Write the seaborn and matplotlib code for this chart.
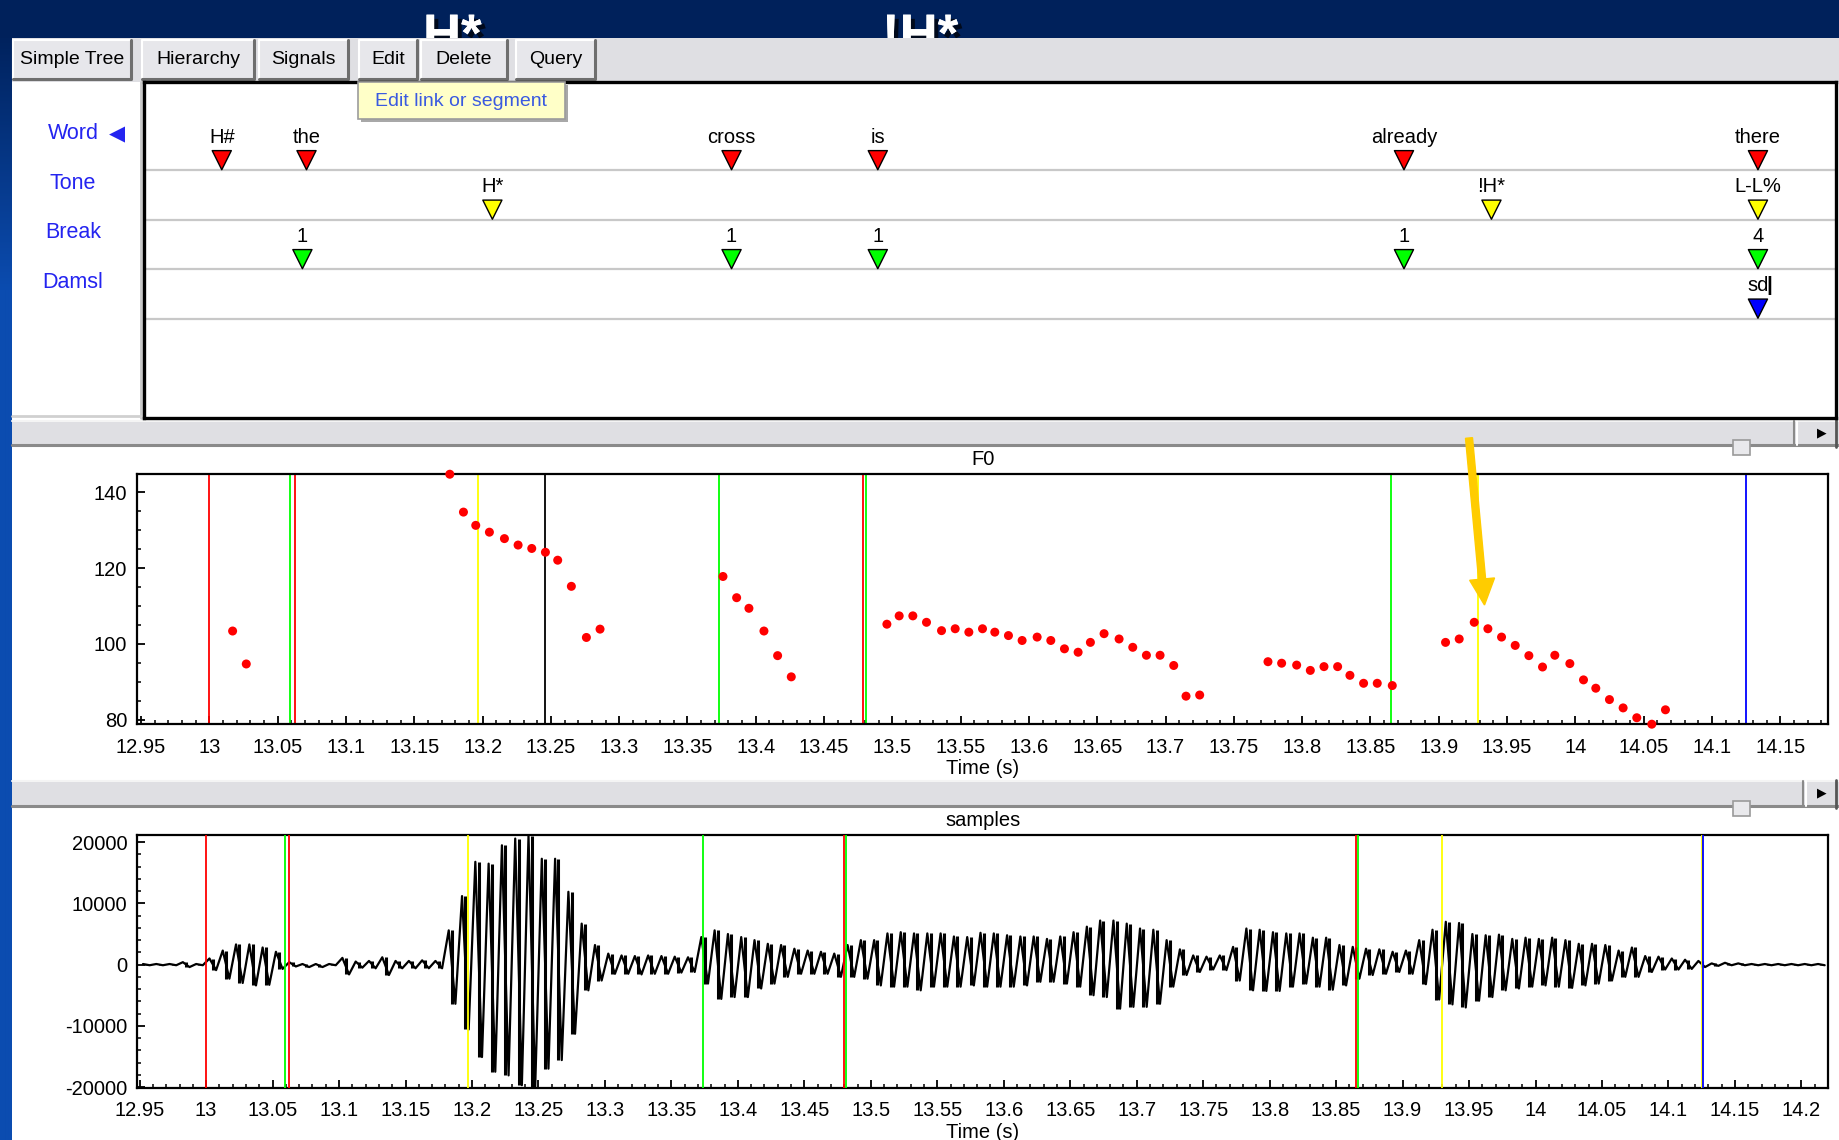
import numpy as np
import pandas as pd
import matplotlib
matplotlib.use("Agg")
import matplotlib.pyplot as plt
import matplotlib.patches as mpatches
import matplotlib.patheffects as pe
import matplotlib.transforms as mtransforms
from matplotlib.ticker import MultipleLocator, FuncFormatter
import seaborn as sns

# ---------------- data ----------------
tiers = ["Word", "Tone", "Break", "Damsl"]
word_labels = ["H#", "the", "cross", "is", "already", "there"]
word_times = [13.000, 13.062, 13.373, 13.480, 13.865, 14.124]
tone_labels = ["H*", "!H*", "L-L%"]
tone_times = [13.198, 13.929, 14.124]
break_labels = ["1", "1", "1", "1", "4"]
break_times = [13.059, 13.373, 13.480, 13.865, 14.124]
damsl_labels = ["sd"]
damsl_times = [14.124]

f0_time = [13.017, 13.027,
           13.176, 13.186, 13.195, 13.205, 13.216, 13.226, 13.236, 13.246, 13.255, 13.265, 13.276, 13.286,
           13.376, 13.386, 13.395, 13.406, 13.416, 13.426,
           13.496, 13.505, 13.515, 13.525, 13.536, 13.546, 13.556, 13.566, 13.575, 13.585, 13.595, 13.606,
           13.616, 13.626, 13.636, 13.645, 13.655, 13.666, 13.676, 13.686, 13.696, 13.706, 13.715, 13.725,
           13.775, 13.785, 13.796, 13.806, 13.816, 13.826, 13.835, 13.845, 13.855, 13.866,
           13.905, 13.915, 13.926, 13.936, 13.946, 13.956, 13.966, 13.976, 13.985, 13.996, 14.006, 14.015,
           14.025, 14.035, 14.045, 14.056, 14.066]
f0_hz = [103.4, 94.7,
         144.8, 134.8, 131.3, 129.5, 127.8, 126.1, 125.2, 124.2, 122.1, 115.2, 101.7, 103.9,
         117.8, 112.2, 109.4, 103.4, 96.9, 91.3,
         105.2, 107.4, 107.4, 105.7, 103.5, 104.0, 103.1, 104.0, 103.1, 102.2, 100.9, 101.8,
         100.9, 98.7, 97.8, 100.4, 102.7, 101.3, 99.1, 97.0, 97.0, 94.3, 86.2, 86.5,
         95.3, 94.9, 94.4, 93.0, 94.0, 94.0, 91.7, 89.6, 89.6, 89.0,
         100.4, 101.3, 105.7, 104.0, 101.8, 99.6, 96.9, 93.9, 97.0, 94.8, 90.5, 88.3,
         85.3, 83.1, 80.5, 78.8, 82.6]

f0_mark_time = [13.000, 13.0587, 13.063, 13.197, 13.246, 13.373, 13.4788, 13.4805, 13.865, 13.929, 14.1248]
f0_mark_kind = ["Word", "Break", "Word", "Tone", "Cursor", "Break", "Word", "Break", "Break", "Tone", "Damsl"]
wave_mark_time = [13.000, 13.0596, 13.0626, 13.197, 13.374, 13.480, 13.4815, 13.8649, 13.8667,
                  13.9294, 14.1249, 14.1262]
wave_mark_kind = ["Word", "Break", "Word", "Tone", "Break", "Word", "Break", "Word", "Break",
                  "Tone", "Tone", "Damsl"]

# waveform envelope, 10 ms bins starting at 12.95 s (thousands)
wave_bin_start = 12.95
wave_bin_width = 0.01
wave_max_k = [0.1, 0.1, 0.1, 0.4, 0.1, 1.0, 2.3, 3.3, 3.3, 2.8,
              2.1, 0.4, 0.1, 0.1, 0.1, 1.1, 0.5, 0.6, 1.2, 0.6,
              0.6, 0.7, 0.6, 5.6, 11.2, 16.8, 16.5, 19.5, 20.6, 21.0,
              17.3, 17.3, 11.9, 6.7, 3.2, 1.8, 1.5, 1.4, 1.5, 1.4,
              1.3, 1.2, 4.5, 5.6, 5.0, 4.5, 4.0, 3.4, 3.2, 2.6,
              2.3, 2.1, 1.8, 3.2, 4.0, 4.0, 5.1, 5.3, 5.1, 5.1,
              5.1, 4.6, 4.5, 5.2, 5.1, 4.8, 4.6, 4.6, 4.2, 4.6,
              5.3, 6.2, 7.2, 7.2, 6.7, 5.9, 5.7, 4.0, 2.5, 1.5,
              1.3, 1.5, 2.9, 5.9, 5.7, 5.3, 5.1, 5.1, 4.4, 4.4,
              3.2, 2.9, 2.6, 2.5, 2.1, 2.3, 4.0, 5.7, 7.0, 6.8,
              5.0, 4.8, 4.9, 4.2, 4.4, 4.2, 4.4, 4.0, 3.4, 3.4,
              3.2, 2.3, 2.8, 1.4, 1.3, 1.0, 0.8, 0.6, 0.2, 0.3,
              0.2, 0.1, 0.1, 0.1, 0.1, 0.1, 0.1]
wave_min_k = [-0.1, -0.1, -0.1, -0.4, -0.1, -0.9, -2.3, -3.0, -3.4, -3.3,
              -0.7, -0.3, -0.4, -0.4, -0.1, -1.6, -0.5, -0.6, -1.7, -0.6,
              -0.6, -0.6, -0.6, -6.4, -10.6, -15.1, -17.5, -18.1, -19.7, -20.2,
              -17.0, -15.6, -11.3, -4.2, -2.6, -1.5, -1.5, -1.6, -1.5, -1.5,
              -1.3, -1.2, -3.1, -5.6, -5.3, -5.3, -3.9, -3.1, -2.0, -1.5,
              -1.5, -1.5, -2.0, -2.0, -2.3, -3.4, -3.6, -3.6, -4.2, -3.6,
              -3.6, -3.6, -3.4, -3.6, -3.6, -3.6, -3.4, -2.8, -2.8, -3.1,
              -3.6, -5.0, -5.3, -7.2, -6.9, -6.9, -6.4, -3.6, -1.7, -1.2,
              -0.8, -0.9, -2.6, -4.2, -4.3, -4.3, -3.6, -3.1, -3.6, -4.1,
              -3.4, -2.3, -1.7, -1.5, -1.2, -1.5, -3.2, -5.7, -6.5, -7.0,
              -5.9, -5.3, -4.2, -3.9, -3.6, -3.4, -3.6, -3.8, -3.4, -3.1,
              -2.6, -2.0, -2.0, -1.2, -0.8, -0.8, -0.7, -0.4, -0.2, -0.1,
              -0.1, -0.1, -0.1, -0.1, -0.1, -0.1, -0.1]

button_labels = ["Simple Tree", "Hierarchy", "Signals", "Edit", "Delete", "Query"]
tooltip_text = "Edit link or segment"

# ---------------- style ----------------
sns.set_theme(style="white")
plt.rcParams["font.family"] = ["Liberation Sans", "DejaVu Sans"]

kind_colors = {"Word": "#FF0000", "Tone": "#FFFF00", "Break": "#00FF00",
               "Damsl": "#0000FF", "Cursor": "#000000"}
NAVY = "#00215B"
GUI_GRAY = "#DFDFE3"
LABEL_BLUE = "#2424F0"

W, H = 1840, 1140
fig = plt.figure(figsize=(W / 100, H / 100), dpi=100)
fig.patch.set_facecolor("white")


def px_axes(x0, y0, x1, y1, zorder=1):
    return fig.add_axes([x0 / W, 1 - y1 / H, (x1 - x0) / W, (y1 - y0) / H], zorder=zorder)


# ---------------- background GUI layer ----------------
bg = px_axes(0, 0, W, H, zorder=0)
bg.set_facecolor("white")
grad = np.zeros((H, 1, 3))
c_top = np.array([0x00, 0x21, 0x5B]) / 255
c_bot = np.array([0x0B, 0x4C, 0xB0]) / 255
ww = np.clip((np.arange(H) - 30) / 260, 0, 1)[:, None]
grad[:, 0, :] = c_top * (1 - ww) + c_bot * ww
bg.imshow(grad, extent=(0, 12, H, 0), aspect="auto", zorder=1, interpolation="bilinear")
bg.set_xlim(0, W)
bg.set_ylim(H, 0)
bg.axis("off")

bg.add_patch(mpatches.Rectangle((0, 0), W, 38, fc=NAVY, ec="none", zorder=1))
shadow = [pe.withSimplePatchShadow(offset=(3, -3), shadow_rgbFace="black", alpha=0.7), pe.Normal()]
band_clip = mpatches.Rectangle((0, 0), W, 38, transform=bg.transData)
for xpos, txt in [(423, "H*"), (882, "!H*")]:
    big = bg.text(xpos, 51, txt, color="white", fontsize=38, fontweight="bold", ha="left",
                  va="baseline", zorder=2, path_effects=shadow)
    big.set_clip_path(band_clip)
bg.add_patch(mpatches.Rectangle((12, 38), W - 12, 44, fc=GUI_GRAY, ec="none", zorder=3))

button_x = [(12, 132), (141, 255), (258, 349), (358, 418), (420, 508), (515, 596)]
for (x0, x1), lab in zip(button_x, button_labels):
    y0, y1 = 39, 80
    bg.add_patch(mpatches.Rectangle((x0, y0), x1 - x0, y1 - y0, fc="#E7E7EB", ec="none", zorder=4))
    bg.plot([x0 + 1, x0 + 1, x1 - 1], [y1 - 1, y0 + 1, y0 + 1], color="white", lw=1.5, zorder=5)
    bg.plot([x0 + 1, x1 - 1, x1 - 1], [y1 - 1, y1 - 1, y0 + 1], color="#6E6E6E", lw=2.2, zorder=5)
    bg.text((x0 + x1) / 2, 60, lab, ha="center", va="center", fontsize=14, color="black", zorder=6)

# left label panel separator
bg.plot([141, 141], [82, 418], color="#C8C8C8", lw=2, zorder=3)
bg.plot([12, 141], [416, 416], color="#D0D0D0", lw=2, zorder=3)


def scrollbar(y0, y1, btn_x0, thumb_y0):
    bg.add_patch(mpatches.Rectangle((12, y0), W - 12, y1 - y0, fc=GUI_GRAY, ec="none", zorder=3))
    bg.plot([12, W], [y0 + 0.5, y0 + 0.5], color="#F4F4F4", lw=1.5, zorder=4)
    bg.plot([12, W], [y1 - 2, y1 - 2], color="#8A8A8A", lw=2.2, zorder=4)
    bg.plot([btn_x0, btn_x0], [y0 + 1, y1 - 2], color="#8A8A8A", lw=1.5, zorder=4)
    bg.plot([btn_x0 + 3, btn_x0 + 3], [y0 + 1, y1 - 2], color="white", lw=1.5, zorder=4)
    bg.plot([W - 4, W - 4], [y0, y1], color="#555555", lw=2, zorder=4)
    bg.text(1822, (y0 + y1) / 2 - 1, "\u25B6", ha="center", va="center", fontsize=9,
            color="black", family=["DejaVu Sans"], zorder=5)
    bg.add_patch(mpatches.Rectangle((1733, thumb_y0), 17, 15, fc="#E9E9EC", ec="#9A9A9A",
                                    lw=1.2, zorder=6))


scrollbar(420, 447, 1794, 440)
scrollbar(780, 808, 1803, 801)

t_f0 = bg.text(983, 465, "F0", ha="center", va="baseline", fontsize=14.5, color="black", zorder=2)
t_f0.set_clip_path(mpatches.Rectangle((0, 455), W, 300, transform=bg.transData))
bg.text(983, 826, "samples", ha="center", va="baseline", fontsize=14.5, color="black", zorder=2)

# ---------------- annotation tiers ----------------
ann = px_axes(144, 82, 1836, 418, zorder=1)
ann.set_facecolor("white")
ann.set_xlim(12.9431, 14.1811)
ann.set_ylim(6.01, -0.78)
ann.set_xticks([])
ann.set_yticks([])
for s in ann.spines.values():
    s.set_color("black")
    s.set_linewidth(2.4)
for i in range(1, 5):
    ann.axhline(i, color="#C8C8C8", lw=1.6, zorder=1)

tier_data = [(word_labels, word_times), (tone_labels, tone_times),
             (break_labels, break_times), (damsl_labels, damsl_times)]
rows = []
for i, (tier, (labs, times)) in enumerate(zip(tiers, tier_data)):
    for lab, t in zip(labs, times):
        rows.append({"tier": tier, "row": i, "label": lab, "time": t})
ann_df = pd.DataFrame(rows)
ann_df["marker_y"] = ann_df["row"] + 0.80
ann_df["text_y"] = ann_df["row"] + 0.34
sns.scatterplot(data=ann_df, x="time", y="marker_y", hue="tier", palette=kind_colors,
                hue_order=tiers, marker="v", s=190, edgecolor="black", linewidth=1.0,
                legend=False, ax=ann, zorder=3, clip_on=False)
for _, r in ann_df.iterrows():
    ann.text(r["time"], r["text_y"], r["label"], ha="center", va="center", fontsize=14.5, color="black")
    if r["tier"] == "Damsl":
        ann.annotate("|", xy=(r["time"], r["text_y"]), xytext=(8, 0), textcoords="offset points",
                     ha="center", va="center", fontsize=15, fontweight="bold", color="black")
ann.set_xlabel("")
ann.set_ylabel("")

lab_tr = mtransforms.blended_transform_factory(bg.transData, ann.transData)
for i, tier in enumerate(tiers):
    ann.text(73, i + 0.27, tier, transform=lab_tr, ha="center", va="center", fontsize=15.5,
             color=LABEL_BLUE, clip_on=False)
ann.text(117, 0.27, "\u25C0", transform=lab_tr, ha="center", va="center", fontsize=15,
         color=LABEL_BLUE, family=["DejaVu Sans"], clip_on=False)

# ---------------- tick styling helper ----------------
def fmt_time(v, pos):
    return f"{v:.2f}".rstrip("0").rstrip(".")


def style_axes(ax, xpad, ypad):
    ax.set_facecolor("white")
    for s in ax.spines.values():
        s.set_color("black")
        s.set_linewidth(1.6)
    ax.xaxis.set_major_locator(MultipleLocator(0.05))
    ax.xaxis.set_minor_locator(MultipleLocator(0.01))
    ax.xaxis.set_major_formatter(FuncFormatter(fmt_time))
    ax.tick_params(axis="both", which="both", direction="in", colors="black",
                   bottom=True, left=True, top=False, right=False, labelsize=14.5)
    ax.tick_params(axis="both", which="major", length=6, width=1.3)
    ax.tick_params(axis="both", which="minor", length=3, width=1.1)
    ax.tick_params(axis="x", which="major", pad=xpad)
    ax.tick_params(axis="y", which="major", pad=ypad)


# ---------------- F0 panel ----------------
axf = px_axes(137, 474, 1828, 724, zorder=1)
f0_df = pd.DataFrame({"time": f0_time, "f0": f0_hz})
for t, k in zip(f0_mark_time, f0_mark_kind):
    axf.axvline(t, color=kind_colors[k], lw=1.3, zorder=1)
sns.scatterplot(data=f0_df, x="time", y="f0", color="#FF0000", s=42, edgecolor="none",
                ax=axf, zorder=3, clip_on=False, legend=False)
axf.set_xlim(12.947, 14.185)
axf.set_ylim(78.85, 144.86)
style_axes(axf, 10, 7)
axf.yaxis.set_major_locator(MultipleLocator(20))
axf.yaxis.set_minor_locator(MultipleLocator(5))
axf.set_ylabel("")
axf.set_xlabel("Time (s)", fontsize=14.5, color="black")
axf.xaxis.set_label_coords(0.5, -0.14)

# ---------------- waveform panel ----------------
axw = px_axes(137, 835, 1828, 1088, zorder=1)
n_bins = len(wave_max_k)
bin_start = wave_bin_start + wave_bin_width * np.arange(n_bins)
zz_t = np.column_stack([bin_start + 0.25 * wave_bin_width, bin_start + 0.75 * wave_bin_width]).ravel()
zz_v = np.column_stack([wave_max_k, wave_min_k]).ravel() * 1000
wave_df = pd.DataFrame({"time": zz_t, "amp": zz_v})
env_df = pd.DataFrame({"time": bin_start + 0.5 * wave_bin_width,
                       "top": np.array(wave_max_k) * 1000, "bottom": np.array(wave_min_k) * 1000})
# vertical excursion of each bin (min..max) plus the oscillation through them
axw.vlines(env_df["time"], env_df["bottom"], env_df["top"], color="black", lw=2.2, zorder=2)
sns.lineplot(data=wave_df, x="time", y="amp", color="black", lw=1.6, sort=False,
             estimator=None, ax=axw, zorder=2)
for t, k in zip(wave_mark_time, wave_mark_kind):
    axw.axvline(t, color=kind_colors[k], lw=1.3, zorder=3)
axw.set_xlim(12.948, 14.220)
axw.set_ylim(-20160, 21180)
style_axes(axw, 9, 7)
axw.yaxis.set_major_locator(MultipleLocator(10000))
axw.yaxis.set_minor_locator(MultipleLocator(2000))
axw.yaxis.set_major_formatter(FuncFormatter(lambda v, p: f"{int(round(v))}"))
axw.set_ylabel("")
axw.set_xlabel("Time (s)", fontsize=14.5, color="black")
axw.xaxis.set_label_coords(0.5, -0.14)

# ---------------- overlay: tooltip and arrow ----------------
ov = px_axes(0, 0, W, H, zorder=5)
ov.set_xlim(0, W)
ov.set_ylim(H, 0)
ov.axis("off")
ov.patch.set_alpha(0)
ov.add_patch(mpatches.Rectangle((361, 85), 207, 37, fc="#A8A8A8", ec="none", zorder=1))
ov.add_patch(mpatches.Rectangle((358, 82), 207, 37, fc="#FFFFC8", ec="#9C9C9C", lw=1.2, zorder=2))
ov.text(461.5, 101, tooltip_text, ha="center", va="center", fontsize=14, color="#3A5AE0", zorder=3)
ov.add_patch(mpatches.FancyArrow(1469, 438, 15.5, 167, width=7, head_width=25, head_length=26,
                                 length_includes_head=True, fc="#FFCC00", ec="#FFCC00", zorder=4))

fig.savefig("out.png", dpi=100, facecolor=fig.get_facecolor())
